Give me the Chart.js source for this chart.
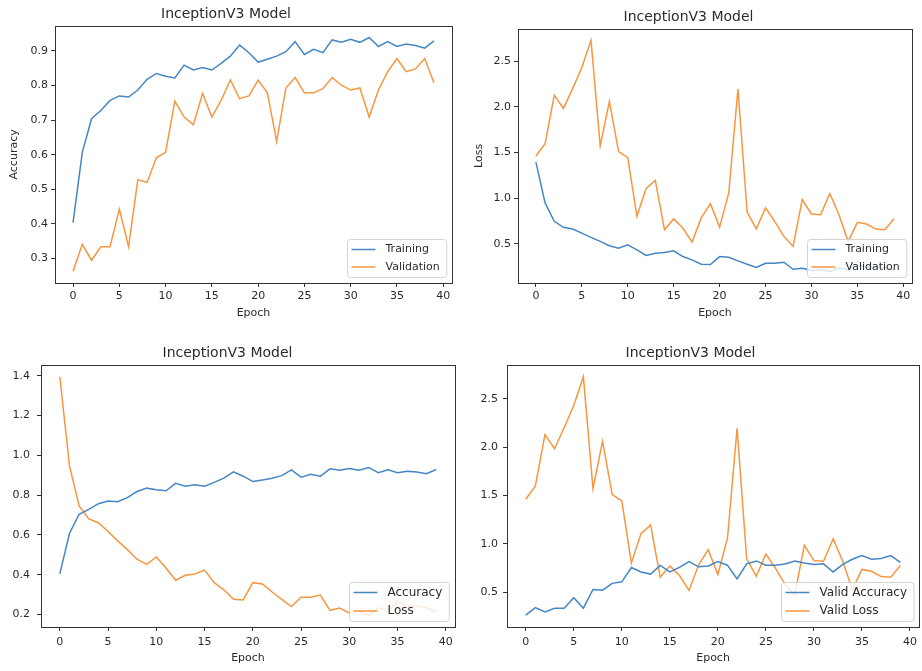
<!DOCTYPE html>
<html>
<head>
<meta charset="utf-8">
<script src="https://cdn.jsdelivr.net/npm/chart.js@4.4.1/dist/chart.umd.min.js"></script>
<style>
  html, body { margin: 0; padding: 0; background: #fff; }
  body { width: 922px; height: 671px; position: relative; overflow: hidden; }
  .panel { position: absolute; }
</style>
</head>
<body>
<div class="panel" style="left:0;top:0;width:460px;height:320px"><canvas id="c1"></canvas></div>
<div class="panel" style="left:465px;top:3px;width:457px;height:317px"><canvas id="c2"></canvas></div>
<div class="panel" style="left:0;top:339px;width:460px;height:326px"><canvas id="c3"></canvas></div>
<div class="panel" style="left:460px;top:339px;width:462px;height:326px"><canvas id="c4"></canvas></div>
<script>
// ── DATA ──────────────────────────────────────────────────────────────────────
const epochs = [0,1,2,3,4,5,6,7,8,9,10,11,12,13,14,15,16,17,18,19,
                20,21,22,23,24,25,26,27,28,29,30,31,32,33,34,35,36,37,38,39];

const trainAcc = [0.404,0.607,0.704,0.728,0.757,0.770,0.767,0.787,0.818,0.835,
                  0.827,0.822,0.859,0.845,0.852,0.845,0.864,0.885,0.917,0.895,
                  0.868,0.876,0.885,0.898,0.927,0.890,0.905,0.895,0.932,0.925,
                  0.934,0.925,0.939,0.913,0.927,0.913,0.920,0.916,0.908,0.929];

const validAcc = [0.263,0.341,0.295,0.334,0.334,0.443,0.334,0.528,0.520,0.591,
                  0.607,0.755,0.709,0.687,0.777,0.709,0.757,0.816,0.762,0.770,
                  0.816,0.779,0.638,0.793,0.823,0.779,0.779,0.791,0.823,0.801,
                  0.787,0.793,0.709,0.787,0.840,0.878,0.840,0.848,0.878,0.808];

const trainLoss = [1.395,0.948,0.746,0.680,0.661,0.617,0.570,0.526,0.478,0.452,
                   0.489,0.434,0.372,0.397,0.404,0.423,0.360,0.324,0.276,0.273,
                   0.360,0.353,0.313,0.276,0.240,0.287,0.287,0.298,0.221,0.232,
                   0.208,0.217,0.197,0.234,0.217,0.267,0.242,0.242,0.234,0.212];

const validLoss = [1.461,1.597,2.129,1.983,2.200,2.430,2.728,1.572,2.060,1.509,
                   1.443,0.801,1.106,1.194,0.654,0.772,0.672,0.518,0.783,0.940,
                   0.683,1.058,2.195,0.845,0.665,0.893,0.746,0.581,0.471,0.984,
                   0.827,0.819,1.050,0.819,0.526,0.735,0.716,0.661,0.654,0.775];

const epochTicks = [0,5,10,15,20,25,30,35,40];
const accTicks   = [0.3,0.4,0.5,0.6,0.7,0.8,0.9];
const lossTicks  = [0.5,1.0,1.5,2.0,2.5];
const mixTicks   = [0.2,0.4,0.6,0.8,1.0,1.2,1.4];

const BLUE   = '#4586c4';
const ORANGE = '#f7963f';
const TEXT   = '#2b2b2b';
const FONT   = '"DejaVu Sans", sans-serif';

// ── FRAME + LEGEND (matplotlib look) ─────────────────────────────────────────
const frameLegend = {
  id: 'frameLegend',
  afterDatasetsDraw(chart, args, o) {
    const { ctx, chartArea: a } = chart;
    ctx.save();

    // box spines
    const l = Math.round(a.left) + 0.5, t = Math.round(a.top) + 0.5;
    const r = Math.round(a.right) + 0.5, b = Math.round(a.bottom) + 0.5;
    ctx.strokeStyle = '#333'; ctx.lineWidth = 1;
    ctx.strokeRect(l, t, r - l, b - t);

    // legend, lower right
    ctx.font = o.size + 'px ' + FONT;
    const sets  = chart.data.datasets;
    const textW = Math.max(...sets.map(d => ctx.measureText(d.label).width));
    const w = 4 + 24 + 10 + textW + 7, h = o.boxH;
    const x = Math.round(a.right - 6 - w) + 0.5, y = Math.round(a.bottom - 6.5 - h) + 0.5;
    ctx.beginPath(); ctx.roundRect(x, y, w, h, 3);
    ctx.fillStyle = 'rgba(255,255,255,0.8)'; ctx.fill();
    ctx.strokeStyle = '#d4d4d4'; ctx.stroke();
    sets.forEach((d, i) => {
      const cy = y + 10 + i * o.gap;
      ctx.strokeStyle = d.borderColor; ctx.lineWidth = 1.5;
      ctx.beginPath(); ctx.moveTo(x + 4, cy); ctx.lineTo(x + 28, cy); ctx.stroke();
      ctx.fillStyle = TEXT; ctx.textBaseline = 'middle'; ctx.textAlign = 'left';
      ctx.fillText(d.label, x + 38, cy);
    });
    ctx.restore();
  }
};

// ── CHART BUILDER ─────────────────────────────────────────────────────────────
function makeChart(id, p) {
  const all  = p.series.flatMap(s => s.data);
  const lo   = Math.min(...all), hi = Math.max(...all);
  const pad  = (hi - lo) * 0.05;

  return new Chart(document.getElementById(id), {
    type: 'line',
    data: {
      labels: epochs,
      datasets: p.series.map(s => ({
        label: s.label, data: s.data,
        borderColor: s.color, backgroundColor: s.color,
        borderWidth: 1.5, pointRadius: 0, tension: 0, fill: false
      }))
    },
    options: {
      responsive: true,
      maintainAspectRatio: false,
      animation: false,
      layout: { padding: { left: 0, right: p.padRight, top: 0, bottom: 0 } },
      plugins: {
        legend: { display: false },
        tooltip: { enabled: false },
        frameLegend: p.legend,
        title: {
          display: true, text: 'InceptionV3 Model', color: TEXT,
          font: { family: FONT, size: 14, weight: 'normal' },
          padding: { top: 6, bottom: 3 }
        }
      },
      scales: {
        x: {
          type: 'linear', min: -1.95, max: 40.95,
          afterBuildTicks: s => { s.ticks = epochTicks.map(v => ({ value: v })); },
          afterFit: s => { s.height = p.xHeight; },
          grid: { drawOnChartArea: false, drawTicks: true, tickLength: 4, color: '#333' },
          border: { display: false },
          ticks: { color: TEXT, font: { family: FONT, size: 11 }, padding: p.xPad, maxRotation: 0 },
          title: { display: true, text: 'Epoch', color: TEXT,
                   font: { family: FONT, size: 11 }, padding: { top: 0, bottom: 0 } }
        },
        y: {
          type: 'linear', min: lo - pad, max: hi + pad,
          afterBuildTicks: s => { s.ticks = p.yTicks.map(v => ({ value: v })); },
          afterFit: s => { s.width = p.yWidth; },
          grid: { drawOnChartArea: false, drawTicks: true, tickLength: 4, color: '#333' },
          border: { display: false },
          ticks: { color: TEXT, font: { family: FONT, size: 11 }, padding: p.tickPad,
                   callback: v => Number(v).toFixed(1) },
          title: { display: !!p.yTitle, text: p.yTitle || '', color: TEXT,
                   font: { family: FONT, size: 11 }, padding: { top: 8, bottom: 0 } }
        }
      }
    },
    plugins: [frameLegend]
  });
}

// ── INIT ──────────────────────────────────────────────────────────────────────
const topLegend = { size: 11, boxH: 38, gap: 17.5 };
const botLegend = { size: 12, boxH: 39, gap: 18.5 };

makeChart('c1', {
  yTitle: 'Accuracy', yTicks: accTicks, yWidth: 55, padRight: 8, tickPad: 3,
  xHeight: 37, xPad: 3, legend: topLegend,
  series: [
    { label: 'Training',   data: trainAcc, color: BLUE },
    { label: 'Validation', data: validAcc, color: ORANGE }
  ]
});

makeChart('c2', {
  yTitle: 'Loss', yTicks: lossTicks, yWidth: 53, padRight: 10, tickPad: 3,
  xHeight: 37, xPad: 3, legend: topLegend,
  series: [
    { label: 'Training',   data: trainLoss, color: BLUE },
    { label: 'Validation', data: validLoss, color: ORANGE }
  ]
});

makeChart('c3', {
  yTicks: mixTicks, yWidth: 41, padRight: 5, tickPad: 7,
  xHeight: 38, xPad: 5, legend: botLegend,
  series: [
    { label: 'Accuracy', data: trainAcc,  color: BLUE },
    { label: 'Loss',     data: trainLoss, color: ORANGE }
  ]
});

makeChart('c4', {
  yTicks: lossTicks, yWidth: 47, padRight: 1, tickPad: 5,
  xHeight: 38, xPad: 5, legend: botLegend,
  series: [
    { label: 'Valid Accuracy', data: validAcc,  color: BLUE },
    { label: 'Valid Loss',     data: validLoss, color: ORANGE }
  ]
});
</script>
</body>
</html>
